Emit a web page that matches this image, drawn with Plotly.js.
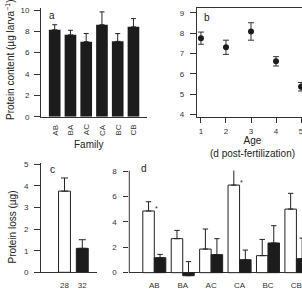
<!DOCTYPE html>
<html>
<head>
<meta charset="utf-8">
<script src="https://cdn.plot.ly/plotly-3.0.1.min.js"></script>
<style>
  html, body { margin: 0; padding: 0; overflow: hidden; background: #fff; }
  #chart { width: 320px; height: 289px; }
</style>
</head>
<body>
<div id="chart"></div>
<script>
// Panel a: protein content per family
const families = ['AB', 'BA', 'AC', 'CA', 'BC', 'CB'];
const contentMean = [8.15, 7.67, 7.03, 8.62, 7.06, 8.42];
const contentErr = [0.47, 0.43, 0.77, 1.20, 0.73, 0.77];

// Panel b: protein content by age (d post-fertilization)
const ageDays = [1, 2, 3, 4, 5];
const ageMean = [7.75, 7.30, 8.08, 6.61, 5.36];
const ageErr = [0.30, 0.35, 0.43, 0.23, 0.21];

// Panel c: protein loss by temperature
const temps = ['28', '32'];
const lossByTemp = [3.76, 1.11];
const lossByTempErr = [0.61, 0.40];
const sigTemps = ['28'];

// Panel d: protein loss by family at 28 and 32
const loss28 = [4.86, 2.68, 1.86, 6.90, 1.34, 5.01];
const loss28Err = [0.73, 0.65, 1.58, 1.50, 1.28, 1.24];
const loss32 = [1.18, -0.24, 1.42, 1.02, 2.34, 1.10];
const loss32Err = [0.26, 1.11, 1.26, 0.76, 1.36, 1.62];
const sigFamilies = ['AB', 'CA'];

const W = 320, H = 289;
const FONT = 'Liberation Sans, Arial, Helvetica, sans-serif';
const INK = '#222';
const BLACK = '#1c1c1c';
const px = v => v / W;
const py = v => 1 - v / H;

const upErr = (arr, w) => ({
  type: 'data', symmetric: false, array: arr,
  arrayminus: arr.map(() => 0), color: INK, thickness: 1, width: w
});

const traces = [
  {
    type: 'bar', x: families, y: contentMean, xaxis: 'x', yaxis: 'y',
    width: 0.74, marker: { color: BLACK, line: { width: 0 } },
    error_y: upErr(contentErr, 2.5), hoverinfo: 'skip'
  },
  {
    type: 'scatter', mode: 'markers', x: ageDays, y: ageMean, xaxis: 'x2', yaxis: 'y2',
    marker: { color: BLACK, size: 6 },
    error_y: { type: 'data', array: ageErr, color: '#333', thickness: 1, width: 3 },
    hoverinfo: 'skip'
  },
  {
    type: 'bar', x: temps, y: lossByTemp, xaxis: 'x3', yaxis: 'y3',
    width: 0.67, marker: { color: ['#ffffff', BLACK], line: { color: INK, width: 1 } },
    error_y: upErr(lossByTempErr, 3.5), hoverinfo: 'skip'
  },
  {
    type: 'bar', x: families, y: loss28, xaxis: 'x4', yaxis: 'y4',
    offset: -0.405, width: 0.405,
    marker: { color: '#ffffff', line: { color: INK, width: 1 } },
    error_y: upErr(loss28Err, 2.7), hoverinfo: 'skip'
  },
  {
    type: 'bar', x: families, y: loss32, xaxis: 'x4', yaxis: 'y4',
    offset: 0, width: 0.405,
    marker: { color: BLACK, line: { color: INK, width: 1 } },
    error_y: upErr(loss32Err, 2.7), hoverinfo: 'skip'
  }
];

const tickFont = { family: FONT, size: 8, color: '#333' };
const baseY = {
  showgrid: false, zeroline: false, showline: true, linecolor: '#333', linewidth: 1,
  ticks: 'outside', ticklen: 6, tickwidth: 1, tickcolor: '#333', tickfont: tickFont,
  fixedrange: true
};
const baseX = {
  showgrid: false, zeroline: false, showline: true, linecolor: '#333', linewidth: 1,
  ticks: '', tickfont: tickFont, fixedrange: true
};

const ann = (text, x, y, size, extra) => Object.assign({
  text: text, xref: 'paper', yref: 'paper', x: px(x), y: py(y),
  xanchor: 'center', yanchor: 'middle', showarrow: false,
  font: { family: FONT, size: size, color: INK }
}, extra || {});

const annotations = [
  ann('a', 52.3, 15.7, 10),
  ann('b', 207.3, 17.7, 10),
  ann('c', 52.3, 169.7, 10),
  ann('d', 144.3, 168.3, 10),
  ann('Protein content (µg larva<sup>−1</sup>)', 10, 60, 10, { textangle: -90 }),
  ann('Family', 88, 144, 10),
  ann('Age<br>(d post-fertilization)', 252.5, 146.5, 10),
  ann('Protein loss (µg)', 12, 227.5, 10, { textangle: -90 })
];

// vertical family labels under the bars of panel a
families.forEach(f => {
  annotations.push({
    text: f, xref: 'x', yref: 'paper', x: f, y: py(130),
    xanchor: 'center', yanchor: 'middle', textangle: -90, showarrow: false,
    font: tickFont
  });
});

// significance marks beside the 28 °C bars
sigTemps.forEach(t => {
  annotations.push({
    text: '*', xref: 'x3', yref: 'y3', x: t, y: lossByTemp[temps.indexOf(t)],
    xanchor: 'center', yanchor: 'bottom', xshift: 8, yshift: -3, showarrow: false,
    font: { family: FONT, size: 7, color: INK }
  });
});
sigFamilies.forEach(f => {
  annotations.push({
    text: '*', xref: 'x4', yref: 'y4', x: f, y: loss28[families.indexOf(f)],
    xanchor: 'center', yanchor: 'bottom', xshift: 2, yshift: -3, showarrow: false,
    font: { family: FONT, size: 7, color: INK }
  });
});

const layout = {
  width: W, height: H,
  margin: { l: 0, r: 0, t: 0, b: 0, pad: 0 },
  paper_bgcolor: '#fff', plot_bgcolor: '#fff',
  showlegend: false, barmode: 'overlay',
  font: { family: FONT, size: 8, color: '#333' },
  xaxis: Object.assign({}, baseX, {
    domain: [px(41), px(147)], anchor: 'y', type: 'category',
    range: [-0.87, 5.86], showticklabels: false
  }),
  yaxis: Object.assign({}, baseY, {
    domain: [py(116.7), py(8.4)], anchor: 'x', range: [0, 10.15],
    tickvals: [0, 2, 4, 6, 8, 10], ticklabelstandoff: 3
  }),
  xaxis2: Object.assign({}, baseX, {
    domain: [px(196.7), px(307.3)], anchor: 'y2', range: [0.83, 5.25],
    ticks: 'outside', ticklen: 5, tickwidth: 1, tickcolor: '#333',
    tickvals: ageDays, mirror: true, ticklabelstandoff: 1
  }),
  yaxis2: Object.assign({}, baseY, {
    domain: [py(117), py(8.3)], anchor: 'x2', range: [3.87, 9.22],
    tickvals: [4, 5, 6, 7, 8, 9], mirror: true, ticklabelstandoff: 4
  }),
  xaxis3: Object.assign({}, baseX, {
    domain: [px(41), px(96.7)], anchor: 'y3', type: 'category',
    range: [-1.32, 1.81], ticklabelstandoff: 5
  }),
  yaxis3: Object.assign({}, baseY, {
    domain: [py(272.3), py(163.3)], anchor: 'x3', range: [0, 5.05],
    tickvals: [0, 1, 2, 3, 4, 5], ticklabelstandoff: 4
  }),
  xaxis4: Object.assign({}, baseX, {
    domain: [px(129.3), 1], anchor: 'y4', type: 'category',
    range: [-0.88, 5.83], showline: false, ticklabelstandoff: 2
  }),
  yaxis4: Object.assign({}, baseY, {
    domain: [py(277.1), py(170.5)], anchor: 'x4', range: [-0.35, 8.05],
    tickvals: [0, 2, 4, 6, 8], showline: false, ticklen: 5,
    zeroline: true, zerolinecolor: '#333', zerolinewidth: 1, ticklabelstandoff: 5
  }),
  shapes: [
    // left axis line of panel d, running from zero up to the top of its range
    { type: 'line', xref: 'x4 domain', yref: 'y4', x0: 0, x1: 0, y0: 0, y1: 8.05,
      line: { color: '#333', width: 1 } }
  ],
  annotations: annotations
};

Plotly.newPlot('chart', traces, layout, { staticPlot: true, displayModeBar: false });
</script>
</body>
</html>
